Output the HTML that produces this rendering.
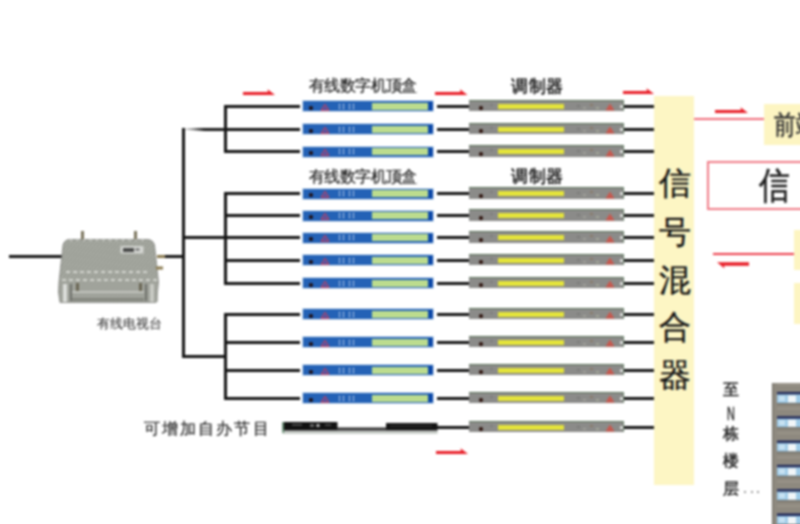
<!DOCTYPE html>
<html><head><meta charset="utf-8"><style>
html,body{margin:0;padding:0;background:#fff;}
body{width:800px;height:524px;position:relative;overflow:hidden;font-family:"Liberation Sans",sans-serif;}
#w{position:absolute;left:0;top:0;width:800px;height:524px;filter:blur(0.8px);}
.l{position:absolute;}
.t{position:absolute;white-space:nowrap;color:#1e1e1e;line-height:1;-webkit-text-stroke:0.6px #1e1e1e;}
.stb{position:absolute;left:302.5px;width:130.5px;height:10px;background:#2462b6;box-shadow:0 0 0 1px #d4e2f0;}
.stb i{position:absolute;display:block;}
.stb .dot{left:6.5px;top:4.5px;width:4px;height:4px;border-radius:50%;background:#200a0a;}
.stb .tri{position:absolute;left:17.5px;top:1.5px;}
.stb .ds{top:2.5px;width:1.2px;height:6px;background:repeating-linear-gradient(180deg,#e6eef8 0,#e6eef8 2px,transparent 2px,transparent 3px);}
.stb .grn{left:69.5px;top:1.5px;width:56px;height:7px;background:#bcdc8e;}
.stb .bend{left:125.5px;top:1px;width:4.5px;height:8px;background:#0c48a8;}
.mod{position:absolute;left:469px;width:154.5px;height:11.5px;background:#8b8b89;border-top:1.5px solid #587258;border-right:1px solid #6a806a;box-sizing:border-box;}
.mod i{position:absolute;display:block;}
.mod .mdot{left:9.5px;top:5.5px;width:4px;height:4px;border-radius:50%;background:#2a0e08;}
.mod .ylw{left:29px;top:3px;width:65.5px;height:5px;background:#e4e43a;}
.mod .mtri{position:absolute;left:136px;top:2.5px;}
.mod .sp{width:3px;height:2px;}
.mod .wdot{left:150.5px;top:4px;width:3px;height:3px;background:#f4f4f4;border-radius:50%;}
.mixer{position:absolute;left:654px;top:96px;width:40px;height:389px;background:#fdf6c4;}
.mx{position:absolute;left:658px;width:33px;text-align:center;font-size:32px;line-height:48px;color:#111;-webkit-text-stroke:0.35px #111;}
.sm{position:absolute;left:723px;width:16px;text-align:center;font-size:16px;line-height:20px;color:#222;-webkit-text-stroke:0.45px #222;}
</style></head><body><div id="w">
<div class="l" style="left:182px;top:128px;width:3px;height:230px;background:#141414"></div>
<div class="l" style="left:160px;top:255px;width:25px;height:3px;background:#141414"></div>
<div class="l" style="left:9px;top:255px;width:53px;height:3px;background:#141414"></div>
<div class="l" style="left:225px;top:128px;width:75px;height:3px;background:#141414"></div>
<div class="l" style="left:185px;top:127.5px;width:41px;height:3.5px;background:linear-gradient(90deg,rgba(28,28,28,0.25),#1c1c1c 45%);clip-path:polygon(0 35%,50% 0,100% 0,100% 100%,50% 100%,0 65%);"></div>
<div class="l" style="left:224px;top:105px;width:3px;height:48px;background:#141414"></div>
<div class="l" style="left:225px;top:105px;width:75px;height:3px;background:#141414"></div>
<div class="l" style="left:225px;top:128px;width:75px;height:3px;background:#141414"></div>
<div class="l" style="left:225px;top:150px;width:75px;height:3px;background:#141414"></div>
<div class="l" style="left:183px;top:236px;width:117px;height:3px;background:#141414"></div>
<div class="l" style="left:224px;top:192px;width:3px;height:92.5px;background:#141414"></div>
<div class="l" style="left:225px;top:192px;width:75px;height:3px;background:#141414"></div>
<div class="l" style="left:225px;top:214px;width:75px;height:3px;background:#141414"></div>
<div class="l" style="left:225px;top:236px;width:75px;height:3px;background:#141414"></div>
<div class="l" style="left:225px;top:259px;width:75px;height:3px;background:#141414"></div>
<div class="l" style="left:225px;top:282px;width:75px;height:3px;background:#141414"></div>
<div class="l" style="left:183px;top:355px;width:42px;height:3px;background:#141414"></div>
<div class="l" style="left:224px;top:312.5px;width:3px;height:87.0px;background:#141414"></div>
<div class="l" style="left:225px;top:313px;width:75px;height:3px;background:#141414"></div>
<div class="l" style="left:225px;top:341px;width:75px;height:3px;background:#141414"></div>
<div class="l" style="left:225px;top:369px;width:75px;height:3px;background:#141414"></div>
<div class="l" style="left:225px;top:397px;width:75px;height:3px;background:#141414"></div>
<div class="l" style="left:437px;top:105px;width:33px;height:2.5px;background:#141414"></div>
<div class="l" style="left:622px;top:105px;width:33px;height:2.5px;background:#141414"></div>
<div class="l" style="left:437px;top:128px;width:33px;height:2.5px;background:#141414"></div>
<div class="l" style="left:622px;top:128px;width:33px;height:2.5px;background:#141414"></div>
<div class="l" style="left:437px;top:150px;width:33px;height:2.5px;background:#141414"></div>
<div class="l" style="left:622px;top:150px;width:33px;height:2.5px;background:#141414"></div>
<div class="l" style="left:437px;top:192px;width:33px;height:2.5px;background:#141414"></div>
<div class="l" style="left:622px;top:192px;width:33px;height:2.5px;background:#141414"></div>
<div class="l" style="left:437px;top:214px;width:33px;height:2.5px;background:#141414"></div>
<div class="l" style="left:622px;top:214px;width:33px;height:2.5px;background:#141414"></div>
<div class="l" style="left:437px;top:236px;width:33px;height:2.5px;background:#141414"></div>
<div class="l" style="left:622px;top:236px;width:33px;height:2.5px;background:#141414"></div>
<div class="l" style="left:437px;top:259px;width:33px;height:2.5px;background:#141414"></div>
<div class="l" style="left:622px;top:259px;width:33px;height:2.5px;background:#141414"></div>
<div class="l" style="left:437px;top:282px;width:33px;height:2.5px;background:#141414"></div>
<div class="l" style="left:622px;top:282px;width:33px;height:2.5px;background:#141414"></div>
<div class="l" style="left:437px;top:313px;width:33px;height:2.5px;background:#141414"></div>
<div class="l" style="left:622px;top:313px;width:33px;height:2.5px;background:#141414"></div>
<div class="l" style="left:437px;top:341px;width:33px;height:2.5px;background:#141414"></div>
<div class="l" style="left:622px;top:341px;width:33px;height:2.5px;background:#141414"></div>
<div class="l" style="left:437px;top:369px;width:33px;height:2.5px;background:#141414"></div>
<div class="l" style="left:622px;top:369px;width:33px;height:2.5px;background:#141414"></div>
<div class="l" style="left:437px;top:397px;width:33px;height:2.5px;background:#141414"></div>
<div class="l" style="left:622px;top:397px;width:33px;height:2.5px;background:#141414"></div>
<div class="l" style="left:437px;top:426px;width:33px;height:2.5px;background:#141414"></div>
<div class="l" style="left:622px;top:426px;width:33px;height:2.5px;background:#141414"></div>
<div class="stb" style="top:101px"><i class="dot"></i><svg class="tri" width="10" height="8" viewBox="0 0 10 8"><path d="M5 1.3 L8.9 7.3 L1.1 7.3 Z" fill="#4a58a8" stroke="#d83a50" stroke-width="1"/></svg><i class="ds" style="left:36px"></i><i class="ds" style="left:40px"></i><i class="ds" style="left:46.5px"></i><i class="ds" style="left:50.5px"></i><i class="grn"></i><i class="bend"></i></div>
<div class="stb" style="top:124px"><i class="dot"></i><svg class="tri" width="10" height="8" viewBox="0 0 10 8"><path d="M5 1.3 L8.9 7.3 L1.1 7.3 Z" fill="#4a58a8" stroke="#d83a50" stroke-width="1"/></svg><i class="ds" style="left:36px"></i><i class="ds" style="left:40px"></i><i class="ds" style="left:46.5px"></i><i class="ds" style="left:50.5px"></i><i class="grn"></i><i class="bend"></i></div>
<div class="stb" style="top:146.5px"><i class="dot"></i><svg class="tri" width="10" height="8" viewBox="0 0 10 8"><path d="M5 1.3 L8.9 7.3 L1.1 7.3 Z" fill="#4a58a8" stroke="#d83a50" stroke-width="1"/></svg><i class="ds" style="left:36px"></i><i class="ds" style="left:40px"></i><i class="ds" style="left:46.5px"></i><i class="ds" style="left:50.5px"></i><i class="grn"></i><i class="bend"></i></div>
<div class="stb" style="top:188.5px"><i class="dot"></i><svg class="tri" width="10" height="8" viewBox="0 0 10 8"><path d="M5 1.3 L8.9 7.3 L1.1 7.3 Z" fill="#4a58a8" stroke="#d83a50" stroke-width="1"/></svg><i class="ds" style="left:36px"></i><i class="ds" style="left:40px"></i><i class="ds" style="left:46.5px"></i><i class="ds" style="left:50.5px"></i><i class="grn"></i><i class="bend"></i></div>
<div class="stb" style="top:210.5px"><i class="dot"></i><svg class="tri" width="10" height="8" viewBox="0 0 10 8"><path d="M5 1.3 L8.9 7.3 L1.1 7.3 Z" fill="#4a58a8" stroke="#d83a50" stroke-width="1"/></svg><i class="ds" style="left:36px"></i><i class="ds" style="left:40px"></i><i class="ds" style="left:46.5px"></i><i class="ds" style="left:50.5px"></i><i class="grn"></i><i class="bend"></i></div>
<div class="stb" style="top:232.5px"><i class="dot"></i><svg class="tri" width="10" height="8" viewBox="0 0 10 8"><path d="M5 1.3 L8.9 7.3 L1.1 7.3 Z" fill="#4a58a8" stroke="#d83a50" stroke-width="1"/></svg><i class="ds" style="left:36px"></i><i class="ds" style="left:40px"></i><i class="ds" style="left:46.5px"></i><i class="ds" style="left:50.5px"></i><i class="grn"></i><i class="bend"></i></div>
<div class="stb" style="top:255px"><i class="dot"></i><svg class="tri" width="10" height="8" viewBox="0 0 10 8"><path d="M5 1.3 L8.9 7.3 L1.1 7.3 Z" fill="#4a58a8" stroke="#d83a50" stroke-width="1"/></svg><i class="ds" style="left:36px"></i><i class="ds" style="left:40px"></i><i class="ds" style="left:46.5px"></i><i class="ds" style="left:50.5px"></i><i class="grn"></i><i class="bend"></i></div>
<div class="stb" style="top:278px"><i class="dot"></i><svg class="tri" width="10" height="8" viewBox="0 0 10 8"><path d="M5 1.3 L8.9 7.3 L1.1 7.3 Z" fill="#4a58a8" stroke="#d83a50" stroke-width="1"/></svg><i class="ds" style="left:36px"></i><i class="ds" style="left:40px"></i><i class="ds" style="left:46.5px"></i><i class="ds" style="left:50.5px"></i><i class="grn"></i><i class="bend"></i></div>
<div class="stb" style="top:309px"><i class="dot"></i><svg class="tri" width="10" height="8" viewBox="0 0 10 8"><path d="M5 1.3 L8.9 7.3 L1.1 7.3 Z" fill="#4a58a8" stroke="#d83a50" stroke-width="1"/></svg><i class="ds" style="left:36px"></i><i class="ds" style="left:40px"></i><i class="ds" style="left:46.5px"></i><i class="ds" style="left:50.5px"></i><i class="grn"></i><i class="bend"></i></div>
<div class="stb" style="top:337px"><i class="dot"></i><svg class="tri" width="10" height="8" viewBox="0 0 10 8"><path d="M5 1.3 L8.9 7.3 L1.1 7.3 Z" fill="#4a58a8" stroke="#d83a50" stroke-width="1"/></svg><i class="ds" style="left:36px"></i><i class="ds" style="left:40px"></i><i class="ds" style="left:46.5px"></i><i class="ds" style="left:50.5px"></i><i class="grn"></i><i class="bend"></i></div>
<div class="stb" style="top:365px"><i class="dot"></i><svg class="tri" width="10" height="8" viewBox="0 0 10 8"><path d="M5 1.3 L8.9 7.3 L1.1 7.3 Z" fill="#4a58a8" stroke="#d83a50" stroke-width="1"/></svg><i class="ds" style="left:36px"></i><i class="ds" style="left:40px"></i><i class="ds" style="left:46.5px"></i><i class="ds" style="left:50.5px"></i><i class="grn"></i><i class="bend"></i></div>
<div class="stb" style="top:393px"><i class="dot"></i><svg class="tri" width="10" height="8" viewBox="0 0 10 8"><path d="M5 1.3 L8.9 7.3 L1.1 7.3 Z" fill="#4a58a8" stroke="#d83a50" stroke-width="1"/></svg><i class="ds" style="left:36px"></i><i class="ds" style="left:40px"></i><i class="ds" style="left:46.5px"></i><i class="ds" style="left:50.5px"></i><i class="grn"></i><i class="bend"></i></div>
<div class="mod" style="top:99.5px"><i class="mdot"></i><i class="sp" style="left:108px;top:4px;background:#7a7a78"></i><i class="sp" style="left:114px;top:6px;background:#a0a09a"></i><i class="sp" style="left:121px;top:3px;background:#8a7a6a"></i><i class="sp" style="left:127px;top:6px;background:#a4a89a"></i><i class="sp" style="left:21px;top:3px;background:#7e7e7c"></i><i class="ylw"></i><svg class="mtri" width="10" height="8" viewBox="0 0 10 8"><path d="M5 0.5 L9.5 7.5 L0.5 7.5 Z" fill="#c8584e"/></svg><i class="wdot"></i></div>
<div class="mod" style="top:122.5px"><i class="mdot"></i><i class="sp" style="left:108px;top:4px;background:#7a7a78"></i><i class="sp" style="left:114px;top:6px;background:#a0a09a"></i><i class="sp" style="left:121px;top:3px;background:#8a7a6a"></i><i class="sp" style="left:127px;top:6px;background:#a4a89a"></i><i class="sp" style="left:21px;top:3px;background:#7e7e7c"></i><i class="ylw"></i><svg class="mtri" width="10" height="8" viewBox="0 0 10 8"><path d="M5 0.5 L9.5 7.5 L0.5 7.5 Z" fill="#c8584e"/></svg><i class="wdot"></i></div>
<div class="mod" style="top:145.0px"><i class="mdot"></i><i class="sp" style="left:108px;top:4px;background:#7a7a78"></i><i class="sp" style="left:114px;top:6px;background:#a0a09a"></i><i class="sp" style="left:121px;top:3px;background:#8a7a6a"></i><i class="sp" style="left:127px;top:6px;background:#a4a89a"></i><i class="sp" style="left:21px;top:3px;background:#7e7e7c"></i><i class="ylw"></i><svg class="mtri" width="10" height="8" viewBox="0 0 10 8"><path d="M5 0.5 L9.5 7.5 L0.5 7.5 Z" fill="#c8584e"/></svg><i class="wdot"></i></div>
<div class="mod" style="top:187.0px"><i class="mdot"></i><i class="sp" style="left:108px;top:4px;background:#7a7a78"></i><i class="sp" style="left:114px;top:6px;background:#a0a09a"></i><i class="sp" style="left:121px;top:3px;background:#8a7a6a"></i><i class="sp" style="left:127px;top:6px;background:#a4a89a"></i><i class="sp" style="left:21px;top:3px;background:#7e7e7c"></i><i class="ylw"></i><svg class="mtri" width="10" height="8" viewBox="0 0 10 8"><path d="M5 0.5 L9.5 7.5 L0.5 7.5 Z" fill="#c8584e"/></svg><i class="wdot"></i></div>
<div class="mod" style="top:209.0px"><i class="mdot"></i><i class="sp" style="left:108px;top:4px;background:#7a7a78"></i><i class="sp" style="left:114px;top:6px;background:#a0a09a"></i><i class="sp" style="left:121px;top:3px;background:#8a7a6a"></i><i class="sp" style="left:127px;top:6px;background:#a4a89a"></i><i class="sp" style="left:21px;top:3px;background:#7e7e7c"></i><i class="ylw"></i><svg class="mtri" width="10" height="8" viewBox="0 0 10 8"><path d="M5 0.5 L9.5 7.5 L0.5 7.5 Z" fill="#c8584e"/></svg><i class="wdot"></i></div>
<div class="mod" style="top:231.0px"><i class="mdot"></i><i class="sp" style="left:108px;top:4px;background:#7a7a78"></i><i class="sp" style="left:114px;top:6px;background:#a0a09a"></i><i class="sp" style="left:121px;top:3px;background:#8a7a6a"></i><i class="sp" style="left:127px;top:6px;background:#a4a89a"></i><i class="sp" style="left:21px;top:3px;background:#7e7e7c"></i><i class="ylw"></i><svg class="mtri" width="10" height="8" viewBox="0 0 10 8"><path d="M5 0.5 L9.5 7.5 L0.5 7.5 Z" fill="#c8584e"/></svg><i class="wdot"></i></div>
<div class="mod" style="top:253.5px"><i class="mdot"></i><i class="sp" style="left:108px;top:4px;background:#7a7a78"></i><i class="sp" style="left:114px;top:6px;background:#a0a09a"></i><i class="sp" style="left:121px;top:3px;background:#8a7a6a"></i><i class="sp" style="left:127px;top:6px;background:#a4a89a"></i><i class="sp" style="left:21px;top:3px;background:#7e7e7c"></i><i class="ylw"></i><svg class="mtri" width="10" height="8" viewBox="0 0 10 8"><path d="M5 0.5 L9.5 7.5 L0.5 7.5 Z" fill="#c8584e"/></svg><i class="wdot"></i></div>
<div class="mod" style="top:276.5px"><i class="mdot"></i><i class="sp" style="left:108px;top:4px;background:#7a7a78"></i><i class="sp" style="left:114px;top:6px;background:#a0a09a"></i><i class="sp" style="left:121px;top:3px;background:#8a7a6a"></i><i class="sp" style="left:127px;top:6px;background:#a4a89a"></i><i class="sp" style="left:21px;top:3px;background:#7e7e7c"></i><i class="ylw"></i><svg class="mtri" width="10" height="8" viewBox="0 0 10 8"><path d="M5 0.5 L9.5 7.5 L0.5 7.5 Z" fill="#c8584e"/></svg><i class="wdot"></i></div>
<div class="mod" style="top:307.5px"><i class="mdot"></i><i class="sp" style="left:108px;top:4px;background:#7a7a78"></i><i class="sp" style="left:114px;top:6px;background:#a0a09a"></i><i class="sp" style="left:121px;top:3px;background:#8a7a6a"></i><i class="sp" style="left:127px;top:6px;background:#a4a89a"></i><i class="sp" style="left:21px;top:3px;background:#7e7e7c"></i><i class="ylw"></i><svg class="mtri" width="10" height="8" viewBox="0 0 10 8"><path d="M5 0.5 L9.5 7.5 L0.5 7.5 Z" fill="#c8584e"/></svg><i class="wdot"></i></div>
<div class="mod" style="top:335.5px"><i class="mdot"></i><i class="sp" style="left:108px;top:4px;background:#7a7a78"></i><i class="sp" style="left:114px;top:6px;background:#a0a09a"></i><i class="sp" style="left:121px;top:3px;background:#8a7a6a"></i><i class="sp" style="left:127px;top:6px;background:#a4a89a"></i><i class="sp" style="left:21px;top:3px;background:#7e7e7c"></i><i class="ylw"></i><svg class="mtri" width="10" height="8" viewBox="0 0 10 8"><path d="M5 0.5 L9.5 7.5 L0.5 7.5 Z" fill="#c8584e"/></svg><i class="wdot"></i></div>
<div class="mod" style="top:363.5px"><i class="mdot"></i><i class="sp" style="left:108px;top:4px;background:#7a7a78"></i><i class="sp" style="left:114px;top:6px;background:#a0a09a"></i><i class="sp" style="left:121px;top:3px;background:#8a7a6a"></i><i class="sp" style="left:127px;top:6px;background:#a4a89a"></i><i class="sp" style="left:21px;top:3px;background:#7e7e7c"></i><i class="ylw"></i><svg class="mtri" width="10" height="8" viewBox="0 0 10 8"><path d="M5 0.5 L9.5 7.5 L0.5 7.5 Z" fill="#c8584e"/></svg><i class="wdot"></i></div>
<div class="mod" style="top:391.5px"><i class="mdot"></i><i class="sp" style="left:108px;top:4px;background:#7a7a78"></i><i class="sp" style="left:114px;top:6px;background:#a0a09a"></i><i class="sp" style="left:121px;top:3px;background:#8a7a6a"></i><i class="sp" style="left:127px;top:6px;background:#a4a89a"></i><i class="sp" style="left:21px;top:3px;background:#7e7e7c"></i><i class="ylw"></i><svg class="mtri" width="10" height="8" viewBox="0 0 10 8"><path d="M5 0.5 L9.5 7.5 L0.5 7.5 Z" fill="#c8584e"/></svg><i class="wdot"></i></div>
<div class="mod" style="top:420.5px"><i class="mdot"></i><i class="sp" style="left:108px;top:4px;background:#7a7a78"></i><i class="sp" style="left:114px;top:6px;background:#a0a09a"></i><i class="sp" style="left:121px;top:3px;background:#8a7a6a"></i><i class="sp" style="left:127px;top:6px;background:#a4a89a"></i><i class="sp" style="left:21px;top:3px;background:#7e7e7c"></i><i class="ylw"></i><svg class="mtri" width="10" height="8" viewBox="0 0 10 8"><path d="M5 0.5 L9.5 7.5 L0.5 7.5 Z" fill="#c8584e"/></svg><i class="wdot"></i></div>
<svg class="l" style="left:243px;top:87.9px" width="32" height="8" viewBox="0 0 32 8"><path d="M0 4 H25 L24.5 1.2 L32 6.9 H0 Z" fill="#e81c26"/></svg>
<svg class="l" style="left:435px;top:87.9px" width="32.5" height="8" viewBox="0 0 32.5 8"><path d="M0 4 H25.5 L25.0 1.2 L32.5 6.9 H0 Z" fill="#e81c26"/></svg>
<svg class="l" style="left:623px;top:87.3px" width="31" height="8" viewBox="0 0 31 8"><path d="M0 4 H24 L23.5 1.2 L31 6.9 H0 Z" fill="#e81c26"/></svg>
<svg class="l" style="left:436px;top:446.5px" width="32" height="8" viewBox="0 0 32 8"><path d="M0 4 H25 L24.5 1.2 L32 6.9 H0 Z" fill="#e81c26"/></svg>
<svg class="l" style="left:715px;top:105.5px" width="33" height="8" viewBox="0 0 33 8"><path d="M0 4 H26 L25.5 1.2 L33 6.9 H0 Z" fill="#e81c26"/></svg>
<svg class="l" style="left:717px;top:262px" width="32" height="8" viewBox="0 0 32 8"><path d="M32 0.3 V3.8 H7 L7.5 6.5 L0 0.3 Z" fill="#e81c26"/></svg>

<svg class="l" style="left:50px;top:226px" width="120" height="82" viewBox="50 226 120 82">
<defs>
<pattern id="st" width="3" height="3" patternUnits="userSpaceOnUse" patternTransform="rotate(40)"><rect width="3" height="3" fill="#959890"/><rect width="1.2" height="3" fill="#b2b5ad"/></pattern>
</defs>
<rect x="81" y="231" width="3" height="10" fill="#7a735c"/>
<rect x="134" y="231" width="3" height="10" fill="#7a735c"/>
<path d="M70 239.5 L147 239.5 Q153 239.5 154.5 245 L158.5 282 L157.5 292 L156 302.5 L60 302.5 L58.5 292 L59 282 L63 245 Q64.5 239.5 70 239.5 Z" fill="url(#st)" stroke="#80827c" stroke-width="0.8"/>
<g fill="#d0d2cc"><rect x="70.0" y="239.5" width="2" height="1.5"/><rect x="76.5" y="239.5" width="2" height="1.5"/><rect x="83.0" y="239.5" width="2" height="1.5"/><rect x="89.5" y="239.5" width="2" height="1.5"/><rect x="96.0" y="239.5" width="2" height="1.5"/><rect x="102.5" y="239.5" width="2" height="1.5"/><rect x="109.0" y="239.5" width="2" height="1.5"/><rect x="115.5" y="239.5" width="2" height="1.5"/><rect x="122.0" y="239.5" width="2" height="1.5"/><rect x="128.5" y="239.5" width="2" height="1.5"/><rect x="135.0" y="239.5" width="2" height="1.5"/><rect x="141.5" y="239.5" width="2" height="1.5"/></g>
<rect x="60" y="282.5" width="98" height="19.5" fill="#a0a29b" opacity="0.8"/>
<g fill="#d4d6d0"><rect x="66" y="271" width="4" height="2"/><rect x="73" y="271" width="4" height="2"/><rect x="80" y="271" width="4" height="2"/><rect x="87" y="271" width="4" height="2"/><rect x="94" y="271" width="4" height="2"/><rect x="101" y="271" width="4" height="2"/><rect x="108" y="271" width="4" height="2"/><rect x="115" y="271" width="4" height="2"/><rect x="122" y="271" width="4" height="2"/><rect x="129" y="271" width="4" height="2"/><rect x="136" y="271" width="4" height="2"/><rect x="143" y="271" width="4" height="2"/><rect x="62" y="279" width="4" height="2"/><rect x="69" y="279" width="4" height="2"/><rect x="76" y="279" width="4" height="2"/><rect x="83" y="279" width="4" height="2"/><rect x="90" y="279" width="4" height="2"/><rect x="97" y="279" width="4" height="2"/><rect x="104" y="279" width="4" height="2"/><rect x="111" y="279" width="4" height="2"/><rect x="118" y="279" width="4" height="2"/><rect x="125" y="279" width="4" height="2"/><rect x="132" y="279" width="4" height="2"/><rect x="139" y="279" width="4" height="2"/><rect x="146" y="279" width="4" height="2"/><rect x="153" y="279" width="4" height="2"/></g>
<rect x="120.5" y="246" width="23" height="7.5" fill="#d4d6d2"/>
<rect x="123" y="248" width="11" height="4" fill="#4a4a4a"/><rect x="135.5" y="248.5" width="4" height="2" fill="#666"/>
<rect x="63" y="284" width="4" height="18" fill="#dcdeda"/>
<rect x="70" y="284" width="2" height="17" fill="#6e706a"/>
<rect x="76" y="283" width="3" height="9" fill="#6a6654"/>
<rect x="139" y="283" width="3" height="9" fill="#6a6654"/>
<rect x="145" y="284" width="2" height="17" fill="#6e706a"/>
<rect x="150" y="284" width="4" height="18" fill="#c8cac4"/>
<rect x="72" y="291" width="72" height="2" fill="#c2c4be"/>
<rect x="72" y="298" width="72" height="3" fill="#85877f"/>
<rect x="157" y="255" width="8" height="3" fill="#8a7a50"/>
<rect x="156" y="266.5" width="7" height="3" fill="#8a7a50"/>
</svg>

<svg class="l" style="left:280px;top:419px" width="160" height="18" viewBox="280 419 160 18">
<rect x="282.5" y="422" width="55" height="8.5" fill="#121212"/>
<rect x="386" y="423" width="51.5" height="7.5" fill="#141414"/>
<path d="M337 427.5 L386 427.5 L386 430.5 L337 430.5 Z" fill="#333"/>
<rect x="282.5" y="430.5" width="155" height="1" fill="#6a6a6a"/>
<rect x="282.5" y="431.5" width="155" height="2.5" fill="#ccd2cc"/>
<rect x="282.5" y="422" width="1.5" height="11" fill="#5a8a6a"/>
<rect x="292" y="424" width="10" height="1.5" fill="#5a5a5a"/>
<rect x="310" y="424" width="4" height="3" fill="#666"/>
<rect x="316.5" y="424" width="3" height="3" fill="#bbb"/>
<rect x="325" y="424" width="6" height="2" fill="#444"/>
<rect x="390" y="425.5" width="42" height="1" fill="#3a3a3a"/>
</svg>

<svg class="l" style="left:770px;top:380px" width="32" height="146" viewBox="770 380 32 146">
<rect x="772" y="383" width="30" height="143" fill="#8e897f"/>
<rect x="772" y="383" width="1" height="143" fill="#6a665e"/>
<rect x="777" y="392.0" width="25" height="2.5" fill="#1c2658"/>
<rect x="777" y="394.5" width="25" height="8.5" fill="#9fcbe8"/>
<rect x="779" y="396.0" width="6" height="5" fill="#c8e2f2"/>
<rect x="788" y="395.5" width="8" height="7" fill="#f2f6f8"/>
<rect x="777" y="403.0" width="25" height="1.2" fill="#6e6a62"/>
<rect x="777" y="384.0" width="25" height="1" fill="#a39d92"/>
<rect x="777" y="416.3" width="25" height="2.5" fill="#1c2658"/>
<rect x="777" y="418.8" width="25" height="8.5" fill="#9fcbe8"/>
<rect x="779" y="420.3" width="6" height="5" fill="#c8e2f2"/>
<rect x="788" y="419.8" width="8" height="7" fill="#f2f6f8"/>
<rect x="777" y="427.3" width="25" height="1.2" fill="#6e6a62"/>
<rect x="777" y="408.3" width="25" height="1" fill="#a39d92"/>
<rect x="777" y="440.6" width="25" height="2.5" fill="#1c2658"/>
<rect x="777" y="443.1" width="25" height="8.5" fill="#9fcbe8"/>
<rect x="779" y="444.6" width="6" height="5" fill="#c8e2f2"/>
<rect x="788" y="444.1" width="8" height="7" fill="#f2f6f8"/>
<rect x="777" y="451.6" width="25" height="1.2" fill="#6e6a62"/>
<rect x="777" y="432.6" width="25" height="1" fill="#a39d92"/>
<rect x="777" y="464.9" width="25" height="2.5" fill="#1c2658"/>
<rect x="777" y="467.4" width="25" height="8.5" fill="#9fcbe8"/>
<rect x="779" y="468.9" width="6" height="5" fill="#c8e2f2"/>
<rect x="788" y="468.4" width="8" height="7" fill="#f2f6f8"/>
<rect x="777" y="475.9" width="25" height="1.2" fill="#6e6a62"/>
<rect x="777" y="456.9" width="25" height="1" fill="#a39d92"/>
<rect x="777" y="489.2" width="25" height="2.5" fill="#1c2658"/>
<rect x="777" y="491.7" width="25" height="8.5" fill="#9fcbe8"/>
<rect x="779" y="493.2" width="6" height="5" fill="#c8e2f2"/>
<rect x="788" y="492.7" width="8" height="7" fill="#f2f6f8"/>
<rect x="777" y="500.2" width="25" height="1.2" fill="#6e6a62"/>
<rect x="777" y="481.2" width="25" height="1" fill="#a39d92"/>
<rect x="777" y="513.5" width="25" height="2.5" fill="#1c2658"/>
<rect x="777" y="516.0" width="25" height="8.5" fill="#9fcbe8"/>
<rect x="779" y="517.5" width="6" height="5" fill="#c8e2f2"/>
<rect x="788" y="517.0" width="8" height="7" fill="#f2f6f8"/>
<rect x="777" y="524.5" width="25" height="1.2" fill="#6e6a62"/>
<rect x="777" y="505.5" width="25" height="1" fill="#a39d92"/>
</svg>

<div class="mixer"></div>
<div class="mx" style="top:158.5px">信</div>
<div class="mx" style="top:207.5px">号</div>
<div class="mx" style="top:255.5px">混</div>
<div class="mx" style="top:302.5px">合</div>
<div class="mx" style="top:351px">器</div>
<div class="l" style="left:694px;top:118px;width:70px;height:2px;background:#f06a78;"></div>
<div class="l" style="left:764px;top:104px;width:40px;height:41px;background:#fdf5c2;"></div>
<div class="t" style="left:773.5px;top:112px;font-size:27px;color:#333;transform:scaleX(0.8);transform-origin:0 0;-webkit-text-stroke:0.5px #333;">前端</div>
<div class="l" style="left:707px;top:161px;width:120px;height:48.5px;border:2px solid #f07a85;box-sizing:border-box;background:#fff;"></div>
<div class="t" style="left:759px;top:167px;font-size:37px;color:#1a1a1a;transform:scaleX(0.83);transform-origin:0 0;">信</div>
<div class="l" style="left:713px;top:253px;width:82px;height:2px;background:#ec3a48;"></div>
<div class="l" style="left:794px;top:230px;width:10px;height:40px;background:#fdf5c2;"></div>
<div class="l" style="left:794px;top:283px;width:10px;height:41px;background:#fdf5c2;"></div>
<div class="sm" style="top:379.5px">至</div>
<div class="sm" style="top:403.5px;font-size:17.5px;transform:scaleX(0.62);">N</div>
<div class="sm" style="top:424px">栋</div>
<div class="sm" style="top:450.5px">楼</div>
<div class="sm" style="top:478.5px">层</div>
<div class="l" style="left:744px;top:491px;width:2px;height:2px;background:#999;"></div>
<div class="l" style="left:750.5px;top:491px;width:2px;height:2px;background:#999;"></div>
<div class="l" style="left:757px;top:491px;width:2px;height:2px;background:#999;"></div>


<div class="t" style="left:309px;top:78px;font-size:15.5px;letter-spacing:-0.6px;-webkit-text-stroke:0.25px #222;color:#222;">有线数字机顶盒</div>
<div class="t" style="left:309px;top:169px;font-size:15.5px;letter-spacing:-0.6px;-webkit-text-stroke:0.25px #222;color:#222;">有线数字机顶盒</div>
<div class="t" style="left:511px;top:78px;font-size:17px;letter-spacing:0.5px;-webkit-text-stroke:0.55px #1c1c1c;color:#1c1c1c;">调制器</div>
<div class="t" style="left:511px;top:167.5px;font-size:17px;letter-spacing:0.5px;-webkit-text-stroke:0.55px #1c1c1c;color:#1c1c1c;">调制器</div>
<div class="t" style="left:144px;top:420.5px;font-size:16px;letter-spacing:2.1px;-webkit-text-stroke:0.25px #2a2a2a;color:#2a2a2a;">可增加自办节目</div>
<div class="t" style="left:97px;top:317px;font-size:13px;-webkit-text-stroke:0.05px #333;color:#333;">有线电视台</div>

</div></body></html>
